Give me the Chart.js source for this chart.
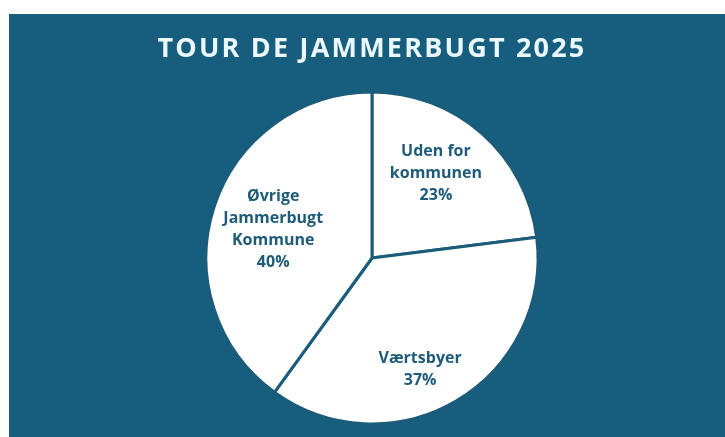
<!DOCTYPE html>
<html>
<head>
<meta charset="utf-8">
<script src="https://cdn.jsdelivr.net/npm/chart.js@4"></script>
<style>
  html, body { margin: 0; padding: 0; background: #ffffff; }
  #boks {
    position: absolute; left: 9px; top: 14px;
    width: 716px; height: 423px;
    background: #175e7e;
  }
</style>
</head>
<body>
<div id="boks"><canvas id="grafico" width="716" height="423"></canvas></div>
<script>
var titel = 'TOUR DE JAMMERBUGT 2025';
var kategorier = [['Uden for', 'kommunen'], ['Værtsbyer'], ['Øvrige', 'Jammerbugt', 'Kommune']];
var andele = [23, 37, 40];

// etiketternes placering: andel af radius og vinkel-justering i grader
var etiketRadius = [0.64, 0.73, 0.62];
var etiketVinkel = [-4.4, 7.2, -1.7];

var ctx = document.getElementById('grafico').getContext('2d');

// Titel tegnes selv for at få bogstavafstand
var titelPlugin = {
  id: 'titel',
  afterDraw: function(chart) {
    var c = chart.ctx;
    c.save();
    c.font = 'bold 27px "Open Sans"';
    c.letterSpacing = '2.2px';
    c.fillStyle = '#eaf7fb';
    c.textAlign = 'center';
    c.textBaseline = 'middle';
    c.fillText(titel, 363, 35);
    c.restore();
  }
};

// Etiketter inde i stykkerne
var etiketPlugin = {
  id: 'etiketter',
  afterDatasetsDraw: function(chart) {
    var c = chart.ctx;
    var meta = chart.getDatasetMeta(0);
    c.save();
    c.font = 'bold 16px "Open Sans"';
    c.fillStyle = '#1d5b79';
    c.textAlign = 'center';
    c.textBaseline = 'middle';
    meta.data.forEach(function(arc, i) {
      var mid = (arc.startAngle + arc.endAngle) / 2 + etiketVinkel[i] * Math.PI / 180;
      var r = arc.outerRadius * etiketRadius[i];
      var x = arc.x + Math.cos(mid) * r;
      var y = arc.y + Math.sin(mid) * r;
      var linjer = kategorier[i].concat([andele[i] + '%']);
      var h = 22;
      var y0 = y - (linjer.length - 1) * h / 2;
      linjer.forEach(function(t, j) {
        c.fillText(t, x, y0 + j * h);
      });
    });
    c.restore();
  }
};

var grafik = new Chart(ctx, {
  type: 'pie',
  data: {
    labels: kategorier.map(function(k) { return k.join(' '); }),
    datasets: [{
      data: andele,
      backgroundColor: '#ffffff',
      borderColor: '#1b5c7b',
      borderWidth: 3,
      borderAlign: 'center'
    }]
  },
  options: {
    responsive: false,
    animation: false,
    radius: 166,
    layout: { padding: { top: 65, left: 10, right: 0, bottom: 0 } },
    plugins: {
      legend: { display: false },
      tooltip: { enabled: false },
      title: { display: false }
    }
  },
  plugins: [titelPlugin, etiketPlugin]
});
</script>
</body>
</html>
